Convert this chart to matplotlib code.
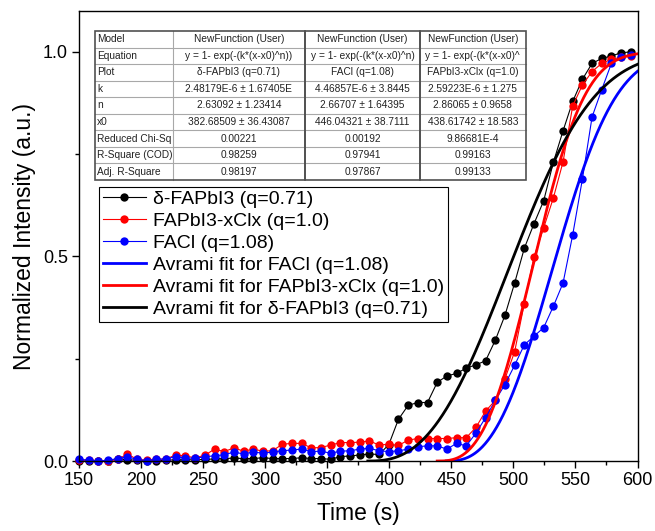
import numpy as np
import matplotlib.pyplot as plt
from matplotlib.patches import Rectangle
from matplotlib.lines import Line2D

plt.rcParams['font.family'] = ['Liberation Sans', 'DejaVu Sans']

# sampling times (s), one frame every 7.8 s
time_s = np.round(150 + 7.8 * np.arange(58), 1)

# normalized PL intensity of the three films
delta_fapbi3 = [0.000, 0.000, 0.001, 0.000, 0.005, 0.003, 0.002, 0.000, 0.001, 0.002,
                0.003, 0.003, 0.003, 0.004, 0.005, 0.006, 0.007, 0.006, 0.006, 0.008,
                0.006, 0.006, 0.006, 0.008, 0.006, 0.006, 0.004, 0.011, 0.012, 0.015,
                0.017, 0.016, 0.040, 0.102, 0.136, 0.143, 0.143, 0.192, 0.208, 0.214,
                0.227, 0.235, 0.245, 0.295, 0.356, 0.435, 0.520, 0.580, 0.636, 0.730,
                0.807, 0.879, 0.933, 0.972, 0.984, 0.990, 0.998, 1.000]
fapbi3_xclx = [0.002, 0.003, 0.000, 0.000, 0.004, 0.017, 0.004, 0.002, 0.004, 0.005,
               0.015, 0.012, 0.008, 0.014, 0.029, 0.023, 0.032, 0.024, 0.029, 0.024,
               0.025, 0.041, 0.043, 0.043, 0.032, 0.033, 0.039, 0.045, 0.045, 0.046,
               0.049, 0.039, 0.041, 0.038, 0.051, 0.055, 0.055, 0.055, 0.055, 0.057,
               0.057, 0.082, 0.122, 0.148, 0.201, 0.267, 0.385, 0.499, 0.570, 0.643,
               0.731, 0.868, 0.919, 0.952, 0.972, 0.982, 0.987, 0.990]
facl = [0.004, 0.002, 0.000, 0.002, 0.006, 0.010, 0.004, 0.001, 0.004, 0.005,
        0.011, 0.007, 0.007, 0.010, 0.013, 0.015, 0.022, 0.017, 0.022, 0.019,
        0.022, 0.025, 0.027, 0.029, 0.023, 0.024, 0.019, 0.024, 0.025, 0.029,
        0.031, 0.025, 0.023, 0.025, 0.029, 0.035, 0.037, 0.037, 0.029, 0.043,
        0.037, 0.068, 0.106, 0.148, 0.187, 0.234, 0.284, 0.305, 0.326, 0.378,
        0.435, 0.553, 0.689, 0.841, 0.908, 0.972, 0.988, 0.993]

# Avrami fit parameters (k, n, x0)
fit_delta = (2.48179e-6, 2.63092, 382.68509)
fit_facl = (4.46857e-6, 2.66707, 446.04321)
fit_xclx = (2.59223e-6, 2.86065, 438.61742)

table_rows = [
    ["Model", "NewFunction (User)", "NewFunction (User)", "NewFunction (User)"],
    ["Equation", "y = 1- exp(-(k*(x-x0)^n))", "y = 1- exp(-(k*(x-x0)^n)", "y = 1- exp(-(k*(x-x0)^"],
    ["Plot", "δ-FAPbI3 (q=0.71)", "FACl (q=1.08)", "FAPbI3-xClx (q=1.0)"],
    ["k", "2.48179E-6 ± 1.67405E", "4.46857E-6 ± 3.8445", "2.59223E-6 ± 1.275"],
    ["n", "2.63092 ± 1.23414", "2.66707 ± 1.64395", "2.86065 ± 0.9658"],
    ["x0", "382.68509 ± 36.43087", "446.04321 ± 38.7111", "438.61742 ± 18.583"],
    ["Reduced Chi-Sq", "0.00221", "0.00192", "9.86681E-4"],
    ["R-Square (COD)", "0.98259", "0.97941", "0.99163"],
    ["Adj. R-Square", "0.98197", "0.97867", "0.99133"],
]


def avrami(t, k, n, x0):
    return 1 - np.exp(-(k * (t - x0) ** n))


W, H = 655, 531


def fx(px):
    return px / W


def fy(py):
    return 1 - py / H


fig = plt.figure(figsize=(W / 100, H / 100), dpi=100)
ax = fig.add_axes([fx(79), fy(461), fx(637.5) - fx(79), fy(11) - fy(461)])

ax.plot(time_s, delta_fapbi3, '-o', color='black', lw=0.8, ms=6, mew=0,
        clip_on=False, label='δ-FAPbI3 (q=0.71)')
ax.plot(time_s, fapbi3_xclx, '-o', color='#ff0000', lw=0.8, ms=6, mew=0,
        clip_on=False, label='FAPbI3-xClx (q=1.0)')
ax.plot(time_s, facl, '-o', color='#0000ff', lw=0.8, ms=6, mew=0,
        clip_on=False, label='FACl (q=1.08)')

for (k, n, x0), col, lab in [(fit_facl, '#0000ff', 'Avrami fit for FACl (q=1.08)'),
                             (fit_xclx, '#ff0000', 'Avrami fit for FAPbI3-xClx (q=1.0)'),
                             (fit_delta, 'black', 'Avrami fit for δ-FAPbI3 (q=0.71)')]:
    tt = np.linspace(x0, 600, 400)
    ax.plot(tt, avrami(tt, k, n, x0), color=col, lw=2, label=lab)

ax.set_xlim(150, 600)
ax.set_ylim(0, 1.1)
ax.set_xticks(np.arange(150, 601, 50))
ax.set_xticks(np.arange(175, 600, 50), minor=True)
ax.set_yticks([0, 0.5, 1.0])
ax.set_yticks([0.25, 0.75], minor=True)
ax.yaxis.set_major_formatter('{x:.1f}')
ax.tick_params(which='major', direction='out', length=5, width=1, labelsize=13, pad=3)
ax.tick_params(which='minor', direction='out', length=3, width=1)
for sp in ax.spines.values():
    sp.set_linewidth(1)

ax.set_xlabel('Time (s)', fontsize=16.5, labelpad=9)
ax.set_ylabel('Normalized Intensity (a.u.)', fontsize=16.5, labelpad=5)

leg = ax.legend(loc='upper left', bbox_to_anchor=(fx(99), fy(186.7)),
                bbox_transform=fig.transFigure, frameon=True, fancybox=False,
                edgecolor='black', framealpha=1, fontsize=14, handlelength=2.2,
                handletextpad=0.4, labelspacing=0.22, borderpad=0.2,
                borderaxespad=0, numpoints=1)
leg.get_frame().set_linewidth(0.8)

# fit results table
col_edges = [95, 172.5, 305, 420, 525.5]
row_top, row_h = 31, 16.55
n_rows = len(table_rows)
tab_bottom = row_top + n_rows * row_h

fig.add_artist(Rectangle((fx(col_edges[0]), fy(tab_bottom)),
                         fx(col_edges[-1]) - fx(col_edges[0]), fy(row_top) - fy(tab_bottom),
                         transform=fig.transFigure, facecolor='white', edgecolor='none', zorder=1))

for r in range(1, n_rows):
    yy = fy(row_top + r * row_h)
    fig.add_artist(Line2D([fx(col_edges[0]), fx(col_edges[-1])], [yy, yy],
                          transform=fig.transFigure, color='#a8a8a8', lw=0.8, zorder=2))
fig.add_artist(Line2D([fx(col_edges[1])] * 2, [fy(row_top), fy(tab_bottom)],
                      transform=fig.transFigure, color='#a8a8a8', lw=0.8, zorder=2))

for left, right in [(col_edges[0], col_edges[2]), (col_edges[2], col_edges[3]),
                    (col_edges[3], col_edges[4])]:
    fig.add_artist(Rectangle((fx(left), fy(tab_bottom)), fx(right) - fx(left),
                             fy(row_top) - fy(tab_bottom), transform=fig.transFigure,
                             facecolor='none', edgecolor='#505050', lw=1.2, zorder=2.5))

for r, row in enumerate(table_rows):
    y0 = row_top + r * row_h
    yc = fy(y0 + row_h / 2)
    for c, txt in enumerate(row):
        left, right = col_edges[c], col_edges[c + 1]
        if c == 0:
            t = fig.text(fx(left + 2), yc, txt, ha='left', va='center', fontsize=7.3,
                         color='#222222', zorder=3)
        else:
            t = fig.text(fx((left + right) / 2), yc, txt, ha='center', va='center',
                         fontsize=7.3, color='#222222', zorder=3)
        cell = Rectangle((fx(left + 1), fy(y0 + row_h)), fx(right - 1) - fx(left + 1),
                         fy(y0) - fy(y0 + row_h), transform=fig.transFigure)
        t.set_clip_path(cell)

fig.savefig('out.png', dpi=100)
